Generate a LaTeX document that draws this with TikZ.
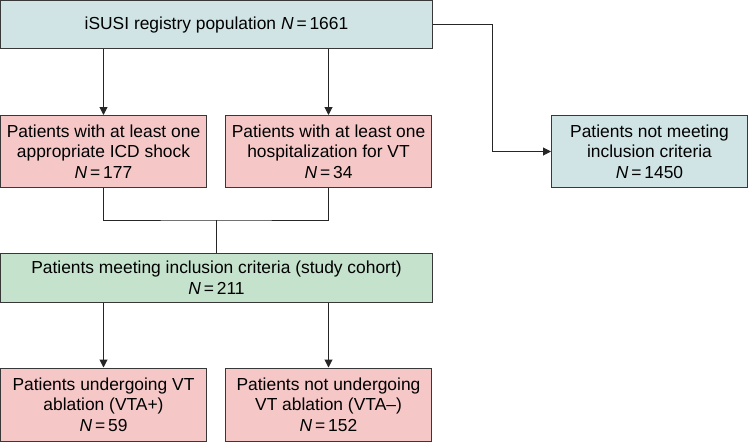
\documentclass[tikz,border=0pt]{standalone}
\usepackage{fontspec}
\setmainfont{Liberation Sans}
\usetikzlibrary{arrows.meta}
\definecolor{popblue}{HTML}{D0E4E6}
\definecolor{grpred}{HTML}{F5C7C7}
\definecolor{cohgreen}{HTML}{C4E2CC}
\definecolor{edgegray}{HTML}{383838}
\newcommand{\nn}[1]{\textit{N}\,=\,#1}

\begin{document}
\begin{tikzpicture}[x=1pt,y=-1pt,
		box/.style={draw=edgegray,line width=1pt,align=center,inner sep=0pt,
			font=\fontsize{17.4}{20.5}\selectfont},
		wide/.style={box,minimum width=432pt,minimum height=48pt},
		half/.style={box,minimum width=206pt,minimum height=72pt},
		arr/.style={-{Triangle[length=8pt,width=8pt]},line width=1pt,draw=black!85}]
		\useasboundingbox (0,0) rectangle (749,442);
		\node[wide,fill=popblue] (pop) at (216.5,24.5) {iSUSI registry population \nn{1661}};
		\node[half,fill=grpred] (shock) at (103.5,151.5) {Patients with at least one\\ appropriate ICD shock\\ \nn{177}};
		\node[half,fill=grpred] (hosp) at (328.5,151.5) {Patients with at least one\\ hospitalization for VT\\ \nn{34}};
		\node[half,fill=popblue,minimum width=196pt] (excl) at (649.5,151.5) {Patients not meeting\\ inclusion criteria\\ \nn{1450}};
		\node[wide,fill=cohgreen,minimum height=49pt] (cohort) at (216.5,277.5) {Patients meeting inclusion criteria (study cohort)\\ \nn{211}};
		\node[half,fill=grpred,minimum height=73pt] (vtap) at (103.5,404.5) {Patients undergoing VT\\ ablation (VTA+)\\ \nn{59}};
		\node[half,fill=grpred,minimum height=73pt] (vtam) at (328.5,404.5) {Patients not undergoing\\ VT ablation (VTA--)\\ \nn{152}};
		\coordinate (join) at (216.5,220);
		% arrows
		\draw[arr] (pop.south -| shock.north) -- (shock.north);
		\draw[arr] (pop.south -| hosp.north) -- (hosp.north);
		\draw[arr] (pop.east) -- ++(59,0) |- (excl.west);
		\draw[line width=1pt,draw=black!85] (shock.south) |- (join) -| (hosp.south);
		\draw[line width=1pt,draw=black!85] (join) -- (cohort.north);
		\draw[arr] (cohort.south -| vtap.north) -- (vtap.north);
		\draw[arr] (cohort.south -| vtam.north) -- (vtam.north);
	\end{tikzpicture}
\end{document}
